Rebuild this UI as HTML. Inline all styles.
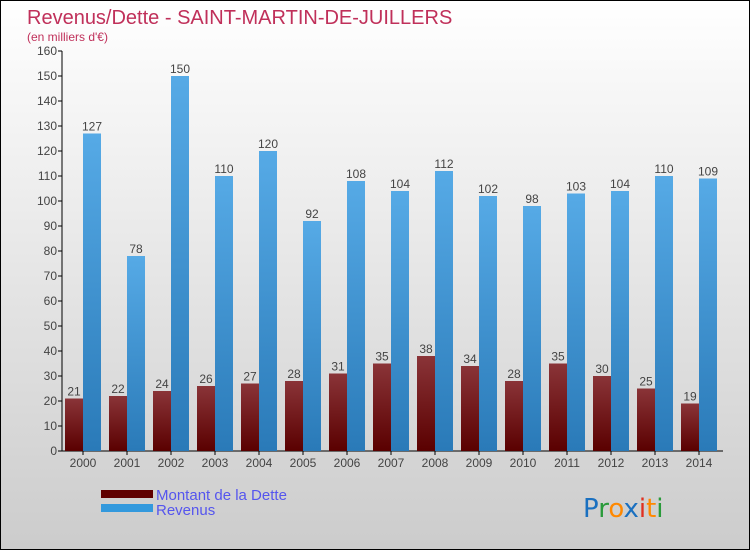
<!DOCTYPE html>
<html><head><meta charset="utf-8"><style>
body{margin:0}
#c{position:relative;width:748px;height:548px;border:1px solid #000;background:linear-gradient(#fff,#ccc);font-family:"Liberation Sans",sans-serif;overflow:hidden}
svg{position:absolute;left:0;top:0}
</style></head><body>
<div id="c">
<svg id="s" width="750" height="550">
<defs>
<linearGradient id="gd" x1="0" y1="0" x2="0" y2="1"><stop offset="0" stop-color="#8a3438"/><stop offset="1" stop-color="#5a0000"/></linearGradient>
<linearGradient id="gr" x1="0" y1="0" x2="0" y2="1"><stop offset="0" stop-color="#56aae6"/><stop offset="1" stop-color="#2a7ab8"/></linearGradient>
</defs>
<text x="26" y="23" font-size="20" fill="#c0305a">Revenus/Dette - SAINT-MARTIN-DE-JUILLERS</text>
<text x="26" y="40" font-size="12" fill="#c0305a">(en milliers d'€)</text>
<g id="g"></g>
<rect x="100" y="489" width="52" height="8" fill="#600000"/>
<rect x="100" y="503" width="52" height="8" fill="#3399dd"/>
<text x="155" y="499" font-size="15" fill="#5555ee">Montant de la Dette</text>
<text x="155" y="514" font-size="15" fill="#5555ee">Revenus</text>
<text x="582" y="516" font-size="26" font-family="'DejaVu Sans',sans-serif"><tspan fill="#1a70c0">P</tspan><tspan fill="#2a9a3a">r</tspan><tspan fill="#ff8800">o</tspan><tspan fill="#1a70c0">x</tspan><tspan fill="#e03020">i</tspan><tspan fill="#ff8800">t</tspan><tspan fill="#2a9a3a">i</tspan></text>
</svg>
</div>
<script>
const years=["2000","2001","2002","2003","2004","2005","2006","2007","2008","2009","2010","2011","2012","2013","2014"];
const dette=[21,22,24,26,27,28,31,35,38,34,28,35,30,25,19];
const revenus=[127,78,150,110,120,92,108,104,112,102,98,103,104,110,109];
const yTicks=[0,10,20,30,40,50,60,70,80,90,100,110,120,130,140,150,160];
const NS="http://www.w3.org/2000/svg";
const g=document.getElementById('g');
const y=v=>450-v*2.5;
const x=i=>64+i*44;
function mk(t,a){const e=document.createElementNS(NS,t);for(const k in a)e.setAttribute(k,a[k]);g.appendChild(e);return e;}
let ax=mk('line',{x1:61,y1:50,x2:61,y2:450,stroke:'#000'});


let bx=mk('line',{x1:61,y1:450,x2:722,y2:450,stroke:'#000'});


yTicks.forEach(v=>{
 let l=mk('line',{x1:57,y1:y(v),x2:61,y2:y(v),stroke:'#000'});
 
 
 let t=mk('text',{x:56,y:y(v)+4,'font-size':12,fill:'#444','text-anchor':'end'});
 t.textContent=v;
 
 
});
years.forEach((yr,i)=>{
 let b1=mk('rect',{x:x(i),y:y(dette[i]),width:18,height:dette[i]*2.5,fill:'url(#gd)'});
 
 
 let b2=mk('rect',{x:x(i)+18,y:y(revenus[i]),width:18,height:revenus[i]*2.5,fill:'url(#gr)'});
 
 
 let t1=mk('text',{x:x(i)+9,y:y(dette[i])-3,'font-size':12,fill:'#444','text-anchor':'middle'});
 t1.textContent=dette[i];
 
 
 let t2=mk('text',{x:x(i)+27,y:y(revenus[i])-3,'font-size':12,fill:'#444','text-anchor':'middle'});
 t2.textContent=revenus[i];
 
 
 let tk=mk('line',{x1:x(i)+18,y1:450,x2:x(i)+18,y2:454,stroke:'#000'});
 
 
 let xl=mk('text',{x:x(i)+18,y:466,'font-size':12,fill:'#444','text-anchor':'middle'});
 xl.textContent=yr;
 
 
});
</script>
</body></html>
